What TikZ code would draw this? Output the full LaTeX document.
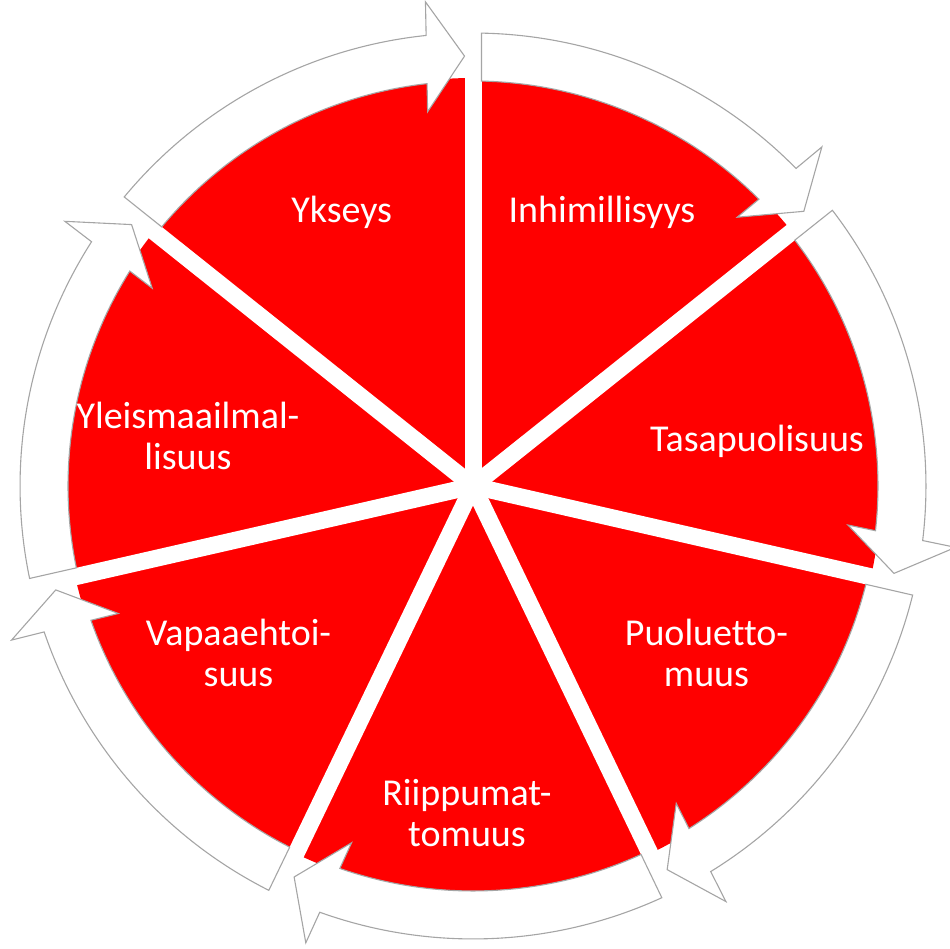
\documentclass[tikz,border=0pt]{standalone}
\usepackage{fontspec}
\setmainfont{Carlito}[Ligatures=NoCommon]
\definecolor{segred}{RGB}{255,0,0}
\definecolor{arrowgray}{RGB}{165,165,165}
\begin{document}
\begin{tikzpicture}[x=1pt,y=1pt,
  gapline/.style={draw=white, line width=17pt},
  cyclearrow/.style={fill=white, draw=arrowgray, line width=1.1pt, line join=miter},
  segtext/.style={text=white, font=\fontsize{38}{41}\selectfont, align=center,
                  inner sep=0pt, anchor=base}]
\useasboundingbox (0,0) rectangle (950,949);
\coordinate (C) at (473,463);

% red disc split into seven wedges by white gaps
\fill[segred] (C) circle[radius=408];
\foreach \k in {0,...,6}
  \draw[gapline] (C) -- ++({90-\k*360/7}:440);
\fill[white] (C) circle[radius=9];

% clockwise block arrows around the rim
\foreach \k in {0,...,6}{
  \begin{scope}[shift={(C)}, rotate={90-\k*360/7+1.13}]
    \filldraw[cyclearrow] (485,38) -- (430,0) -- (375,38) -- (403.2,38)
      arc[start angle=5.38, end angle=49.1, radius=405]
      -- (49.22:453)
      arc[start angle=49.22, end angle=4.81, radius=453] -- cycle;
  \end{scope}
}

% wedge labels (base anchor = baseline of the last line)
\node[segtext] (ykseys) at (341.7,726.3) {Ykseys};
\node[segtext] (inhimillisyys) at (602,726.3) {Inhimillisyys};
\node[segtext] (tasapuolisuus) at (757,497.3) {Tasapuolisuus};
\node[segtext] (puoluettomuus) at (706.5,262.3) {Puoluetto-\\muus};
\node[segtext] (riippumattomuus) at (467,102.3) {Riippumat-\\tomuus};
\node[segtext] (vapaaehtoisuus) at (238.5,262.3) {Vapaaehtoi-\\suus};
\node[segtext] (yleismaailmallisuus) at (188,479) {Yleismaailmal-\\lisuus};
\end{tikzpicture}
\end{document}
